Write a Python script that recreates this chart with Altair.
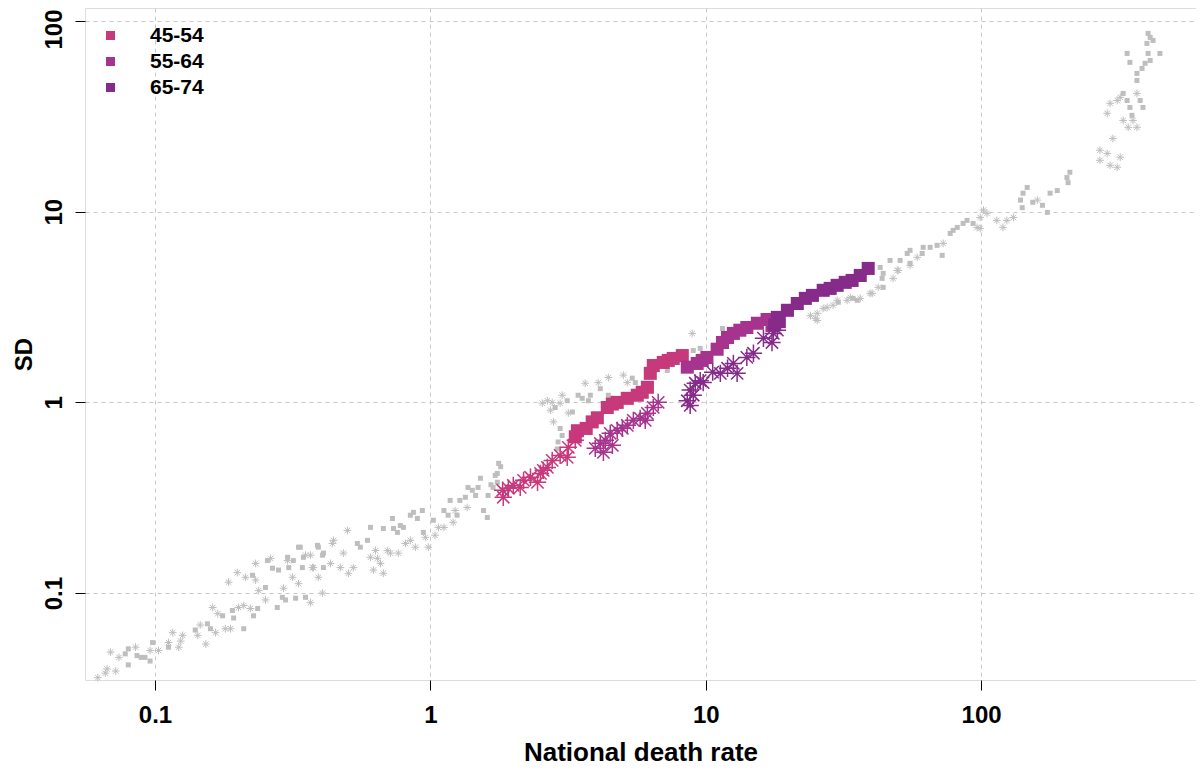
import altair as alt
import pandas as pd

# ---------------- data ----------------
gray_sq_x = [0.078, 0.080, 0.080, 0.086, 0.089, 0.092, 0.096, 0.098, 0.112, 0.140, 0.155, 0.159, 0.176, 0.191,
             0.193, 0.210, 0.228, 0.236, 0.226, 0.252, 0.256, 0.267, 0.278, 0.281, 0.290, 0.298, 0.306, 0.324,
             0.332, 0.343, 0.352, 0.389, 0.406, 0.409, 0.303, 0.318, 0.337, 0.346, 0.392, 0.409,
             0.543, 0.557, 0.591, 0.606, 0.675, 0.728, 0.735, 0.759, 0.778, 0.798, 0.846, 0.868, 0.897, 0.935,
             0.943, 1.025, 1.12, 1.16, 1.18, 1.25, 1.28, 1.34, 1.37, 1.42, 1.46, 1.49, 1.52, 1.56, 1.61, 1.62,
             1.69, 1.72, 1.77, 1.75, 1.80, 1.75, 1.66,
             2.84, 3.14, 3.28, 2.96, 3.01, 2.91, 2.89, 3.44, 3.56, 3.75, 3.81, 4.14, 4.43, 4.58, 5.41, 5.55,
             7.25, 9.01, 9.55, 11.5,
             30.3, 34.3, 43.7, 44.1, 43.0, 46.7, 50.8, 53.9, 61.1, 61.6, 65.3, 69.2, 55.2, 72.2, 77.2, 81.9,
             88.9, 93.5, 139, 142, 147, 141, 154, 167, 174, 178, 189, 205, 210, 207, 328, 339, 347, 353, 378,
             387, 339, 347, 368, 368, 384, 394, 404, 400, 411, 421, 446, 404, 411, 35.5, 44.1, 55.2, 79.1, 86.0]
gray_sq_y = [0.048, 0.042, 0.051, 0.047, 0.046, 0.046, 0.044, 0.055, 0.052, 0.064, 0.069, 0.065, 0.076, 0.081,
             0.074, 0.065, 0.076, 0.083, 0.124, 0.107, 0.148, 0.135, 0.084, 0.132, 0.095, 0.092, 0.136, 0.094,
             0.174, 0.136, 0.095, 0.178, 0.158, 0.136, 0.154, 0.148, 0.174, 0.154, 0.174, 0.162,
             0.182, 0.174, 0.189, 0.221, 0.218, 0.246, 0.218, 0.208, 0.226, 0.221, 0.256, 0.265, 0.246, 0.271,
             0.208, 0.241, 0.271, 0.256, 0.306, 0.256, 0.306, 0.318, 0.358, 0.346, 0.325, 0.358, 0.400, 0.271,
             0.249, 0.325, 0.358, 0.414, 0.479, 0.381, 0.46, 0.424, 0.37,
             0.94, 1.02, 0.89, 0.73, 0.67, 0.62, 0.57, 1.09, 1.05, 1.02, 1.09, 1.18, 1.09, 1.05, 1.34, 1.27,
             1.47, 1.87, 1.92, 2.44,
             3.35, 3.51, 4.47, 4.75, 5.10, 5.55, 5.55, 6.04, 6.04, 6.50, 6.50, 6.66, 6.27, 5.90, 7.69, 8.27,
             9.00, 8.68, 11.5, 12.5, 13.4, 10.5, 11.2, 10.8, 9.92, 12.5, 12.9, 15.1, 16.1, 14.2, 41.7, 38.3,
             35.2, 32.0, 38.3, 35.2, 67.6, 60.7, 53.1, 48.8, 56.4, 60.0, 67.6, 76.3, 82.0, 79.1, 67.6, 86.1,
             62.1, 3.43, 4.01, 5.36, 7.98, 8.68]

gray_ast_x = [0.062, 0.066, 0.067, 0.072, 0.069, 0.074, 0.085, 0.096, 0.103, 0.112, 0.116, 0.122, 0.124, 0.126,
              0.143, 0.146, 0.153, 0.162, 0.166, 0.169, 0.180, 0.188, 0.199, 0.185, 0.201, 0.210, 0.222, 0.213,
              0.232, 0.232, 0.238, 0.252, 0.263, 0.293, 0.303, 0.316, 0.332, 0.352, 0.367, 0.373, 0.392, 0.406,
              0.367, 0.376, 0.434, 0.441, 0.445, 0.471, 0.483, 0.500, 0.504, 0.525, 0.606, 0.621, 0.632, 0.642,
              0.659, 0.675, 0.698, 0.716, 0.765, 0.812, 0.846, 0.882, 0.959, 0.983, 1.04, 1.07, 1.12, 1.21,
              1.23, 1.36,
              2.55, 2.66, 2.73, 2.77, 2.96, 3.01, 3.17, 2.80, 3.65, 4.07, 4.43, 5.02, 5.19, 8.93,
              25.0, 25.4, 26.7, 29.0, 32.6, 36.4, 39.5, 42.3, 47.9, 50.0, 55.2, 58.6, 72.8, 99.2, 102, 99.2,
              105, 114, 120, 124, 131, 160, 270, 270, 287, 294, 301, 312, 320, 287, 294, 312, 320, 328, 342,
              356, 368, 368, 24.0, 25.4, 27.6, 30.0, 33.5, 40.2, 49.6, 96.7]
gray_ast_y = [0.036, 0.038, 0.040, 0.039, 0.049, 0.046, 0.052, 0.050, 0.050, 0.055, 0.062, 0.052, 0.056, 0.060,
              0.060, 0.068, 0.054, 0.084, 0.062, 0.078, 0.065, 0.065, 0.128, 0.114, 0.084, 0.086, 0.083, 0.121,
              0.117, 0.143, 0.103, 0.092, 0.152, 0.106, 0.148, 0.121, 0.112, 0.158, 0.089, 0.136, 0.121, 0.100,
              0.158, 0.136, 0.143, 0.182, 0.189, 0.136, 0.162, 0.213, 0.127, 0.136, 0.154, 0.132, 0.167, 0.152,
              0.143, 0.127, 0.167, 0.162, 0.162, 0.182, 0.189, 0.174, 0.196, 0.174, 0.201, 0.221, 0.221, 0.235,
              0.271, 0.281,
              0.99, 1.02, 0.91, 1.0, 0.99, 1.09, 0.88, 0.79, 1.26, 1.27, 1.35, 1.39, 1.27, 2.30,
              2.76, 2.93, 3.11, 3.23, 3.43, 3.51, 3.73, 4.01, 4.47, 4.92, 5.23, 5.76, 6.82, 9.33, 10.2, 8.17,
              9.80, 9.00, 8.27, 9.0, 9.33, 11.5, 21.0, 18.6, 20.2, 17.5, 24.2, 17.1, 19.3, 32.8, 37.0, 38.3,
              39.8, 30.1, 27.7, 30.1, 41.7, 27.7, 2.85, 2.69, 3.15, 3.43, 3.55, 3.73, 4.92, 8.27]

sq_x = [3.42, 3.68, 3.36, 3.87, 4.04, 4.39, 4.58, 4.77, 5.19, 5.64, 5.88, 6.14, 6.29, 6.45, 7.01, 7.31, 7.62, 8.22,
        8.57, 9.31, 9.71, 10.1, 11.0, 11.5, 12.0, 12.6, 13.3, 14.1, 15.4, 16.7, 17.4,
        17.8, 18.5, 18.2, 19.8, 21.5, 23.0, 24.4, 26.7, 28.3, 30.0, 32.1, 34.0, 36.4, 38.9]
sq_y = [0.71, 0.73, 0.66, 0.79, 0.83, 0.94, 0.98, 1.0, 1.05, 1.09, 1.13, 1.20, 1.42, 1.56, 1.62, 1.66, 1.70, 1.76,
        1.53, 1.60, 1.66, 1.72, 1.90, 2.06, 2.19, 2.30, 2.39, 2.47, 2.60, 2.72, 2.53,
        2.55, 2.65, 2.79, 3.04, 3.30, 3.51, 3.64, 3.87, 3.96, 4.11, 4.26, 4.36, 4.63, 5.04]
sq_age = ["45-54"] * 18 + ["55-64"] * 13 + ["65-74"] * 14

ast_x = [1.83, 1.84, 2.00, 2.18, 2.31, 2.45, 2.51, 2.66, 2.77, 2.96, 3.14, 3.17, 3.36, 2.12, 1.92, 2.57,
         3.97, 4.14, 4.32, 4.25, 4.50, 4.58, 4.77, 5.19, 5.46, 5.78, 6.14, 6.45, 6.72, 4.98, 6.03,
         8.57, 8.78, 9.16, 9.55, 10.6, 9.79, 11.3, 12.6, 13.0, 14.1, 14.9, 16.2, 17.4, 17.6, 18.2, 8.78, 9.01, 12.0]
ast_y = [0.346, 0.318, 0.367, 0.390, 0.405, 0.381, 0.424, 0.456, 0.496, 0.527, 0.515, 0.581, 0.632, 0.358, 0.354, 0.44,
         0.574, 0.61, 0.632, 0.547, 0.688, 0.595, 0.713, 0.758, 0.805, 0.824, 0.876, 0.941, 1.0, 0.731, 0.805,
         1.02, 1.16, 1.26, 1.30, 1.44, 1.27, 1.42, 1.60, 1.42, 1.72, 1.81, 2.17, 2.06, 2.30, 2.39, 0.964, 1.09, 1.51]
ast_age = ["45-54"] * 16 + ["55-64"] * 15 + ["65-74"] * 18

ages = ["45-54", "55-64", "65-74"]
age_colors = ["#C6397B", "#A6348E", "#862B8A"]
tick_vals = [0.1, 1, 10, 100]

# ---------------- chart ----------------
FONT = "Liberation Sans, Arial, sans-serif"
GRAY = "#BEBEBE"
ASTERISK = "M-1,0L1,0M0,-1L0,1M-0.7071,-0.7071L0.7071,0.7071M-0.7071,0.7071L0.7071,-0.7071"

xscale = alt.Scale(type="log", domain=[0.0557, 603], nice=False)
yscale = alt.Scale(type="log", domain=[0.035, 117], nice=False)

xaxis = alt.Axis(values=tick_vals, format="~g", title="National death rate",
                 grid=True, gridDash=[4, 4], gridColor="#C8C8C8", gridWidth=1,
                 domain=False, tickSize=10, tickColor="black", tickWidth=1,
                 labelFont=FONT, labelFontSize=24, labelFontWeight="bold", labelColor="black",
                 labelPadding=13, titleFont=FONT, titleFontSize=26, titleFontWeight="bold",
                 titleColor="black", titlePadding=12)
yaxis = alt.Axis(values=tick_vals, format="~g", title="SD",
                 grid=True, gridDash=[4, 4], gridColor="#C8C8C8", gridWidth=1,
                 domain=False, tickSize=10, tickColor="black", tickWidth=1,
                 labelFont=FONT, labelFontSize=24, labelFontWeight="bold", labelColor="black",
                 labelAngle=270, labelAlign="center", labelBaseline="bottom", labelPadding=9,
                 labelOffset=alt.condition("datum.value == 100", alt.value(8), alt.value(0)),
                 titleFont=FONT, titleFontSize=24, titleFontWeight="bold", titleColor="black",
                 titleAngle=270, titleX=-54, titleY=346, titleBaseline="alphabetic")

gray_sq = pd.DataFrame({"rate": gray_sq_x, "sd": gray_sq_y})
gray_ast = pd.DataFrame({"rate": gray_ast_x, "sd": gray_ast_y})
col_sq = pd.DataFrame({"rate": sq_x, "sd": sq_y, "age": sq_age})
col_ast = pd.DataFrame({"rate": ast_x, "sd": ast_y, "age": ast_age})

l1 = alt.Chart(gray_sq).mark_square(size=25, color=GRAY, opacity=1).encode(
    x=alt.X("rate:Q", scale=xscale, axis=xaxis),
    y=alt.Y("sd:Q", scale=yscale, axis=yaxis))
l2 = alt.Chart(gray_ast).mark_point(shape=ASTERISK, size=60, filled=False, color=GRAY,
                                    strokeWidth=1, opacity=1).encode(
    x=alt.X("rate:Q", scale=xscale), y=alt.Y("sd:Q", scale=yscale))
l3 = alt.Chart(col_sq).mark_square(size=170, opacity=1).encode(
    x=alt.X("rate:Q", scale=xscale), y=alt.Y("sd:Q", scale=yscale),
    fill=alt.Fill("age:N", scale=alt.Scale(domain=ages, range=age_colors),
                  legend=alt.Legend(title=None, orient="none", legendX=15, legendY=17,
                                    symbolType="square", symbolSize=81, symbolStrokeWidth=0,
                                    labelFont=FONT, labelFontSize=21, labelFontWeight="bold",
                                    labelColor="black", labelOffset=29, rowPadding=4, padding=0)))
l4 = alt.Chart(col_ast).mark_point(shape=ASTERISK, size=300, filled=False, strokeWidth=1.5,
                                   opacity=1).encode(
    x=alt.X("rate:Q", scale=xscale), y=alt.Y("sd:Q", scale=yscale),
    stroke=alt.Stroke("age:N", scale=alt.Scale(domain=ages, range=age_colors), legend=None))

chart = alt.layer(l1, l2, l3, l4).properties(
    width=1111, height=672,
    autosize=alt.AutoSizeParams(type="none"),
    padding={"left": 77, "top": 0, "right": 0, "bottom": 86},
).configure_view(stroke="black", strokeWidth=1.3).configure(background="white")

chart.save("out.html", embed_options={"renderer": "svg", "actions": False})
